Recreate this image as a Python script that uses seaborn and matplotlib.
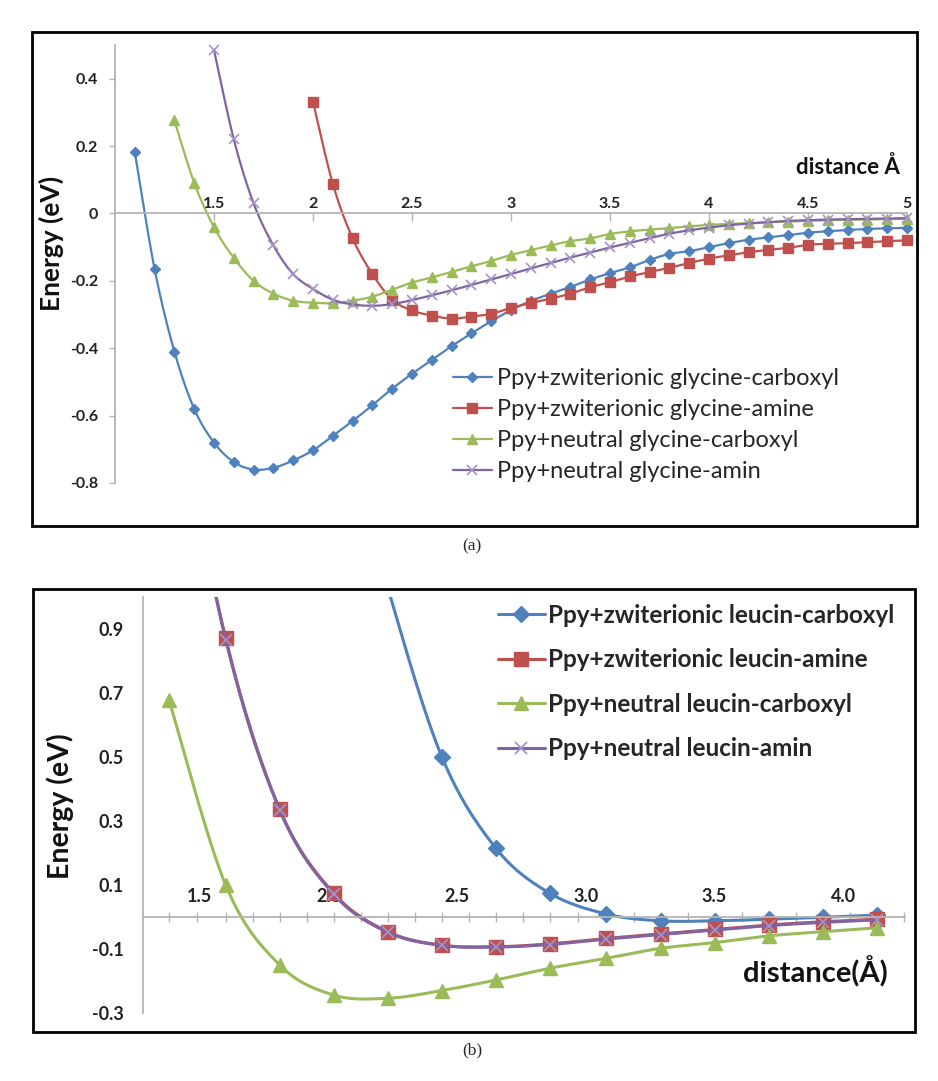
import numpy as np
import pandas as pd
import matplotlib
matplotlib.use('Agg')
import matplotlib.pyplot as plt
from matplotlib.lines import Line2D
from matplotlib.patches import Rectangle
import seaborn as sns

sns.set_theme(style='white')
plt.rcParams['font.family'] = ['Lato', 'DejaVu Sans']

# ── データ ──────────────────────────────────────────────
# (a) glycine, 0.1 Å step
DIST_A = [1.1, 1.2, 1.3, 1.4, 1.5, 1.6, 1.7, 1.8, 1.9, 2.0,
          2.1, 2.2, 2.3, 2.4, 2.5, 2.6, 2.7, 2.8, 2.9, 3.0,
          3.1, 3.2, 3.3, 3.4, 3.5, 3.6, 3.7, 3.8, 3.9, 4.0,
          4.1, 4.2, 4.3, 4.4, 4.5, 4.6, 4.7, 4.8, 4.9, 5.0]
ZW_GLY_CARBOXYL = [0.182, -0.165, -0.41, -0.58, -0.68, -0.738, -0.76, -0.755, -0.733, -0.703,
                   -0.66, -0.616, -0.569, -0.52, -0.476, -0.435, -0.394, -0.356, -0.32, -0.287,
                   -0.26, -0.238, -0.218, -0.196, -0.177, -0.16, -0.138, -0.12, -0.112, -0.1,
                   -0.088, -0.078, -0.071, -0.064, -0.057, -0.053, -0.049, -0.046, -0.044, -0.043]
ZW_GLY_AMINE = [0.332, 0.088, -0.074, -0.18, -0.256, -0.288, -0.303, -0.312, -0.306, -0.298,
                -0.28, -0.266, -0.253, -0.238, -0.219, -0.204, -0.187, -0.174, -0.161, -0.147,
                -0.134, -0.124, -0.115, -0.108, -0.102, -0.093, -0.09, -0.088, -0.085, -0.082,
                -0.08]                                  # 2.0 – 5.0
NE_GLY_CARBOXYL = [0.276, 0.091, -0.041, -0.132, -0.2, -0.238, -0.259, -0.265,
                   -0.266, -0.259, -0.247, -0.226, -0.205, -0.19, -0.173, -0.157, -0.141, -0.123,
                   -0.109, -0.095, -0.082, -0.074, -0.061, -0.053, -0.048, -0.043, -0.038, -0.034,
                   -0.031, -0.028, -0.026, -0.024, -0.022, -0.02, -0.019, -0.018, -0.017, -0.015]  # 1.3 – 5.0
NE_GLY_AMIN = [0.485, 0.22, 0.03, -0.095, -0.18, -0.224,
               -0.256, -0.27, -0.274, -0.269, -0.257, -0.243, -0.228, -0.212, -0.196, -0.18,
               -0.163, -0.147, -0.131, -0.116, -0.101, -0.087, -0.073, -0.06, -0.05, -0.042,
               -0.035, -0.03, -0.026, -0.022, -0.02, -0.018, -0.017, -0.016, -0.015, -0.014]  # 1.5 – 5.0

LABELS_A = ['Ppy+zwiterionic glycine-carboxyl', 'Ppy+zwiterionic glycine-amine',
            'Ppy+neutral glycine-carboxyl', 'Ppy+neutral glycine-amin']

# (b) leucin
DIST_B = [1.38, 1.60, 1.81, 2.02, 2.23, 2.44, 2.65, 2.86, 3.08, 3.29, 3.50, 3.71, 3.92, 4.13]
ZW_LEU_CARBOXYL = [1.65, 1.03, 0.502, 0.216, 0.075, 0.010, -0.011, -0.011, -0.006, 0.0, 0.007]  # 2.02 –
ZW_LEU_AMINE = [1.75, 0.872, 0.3375, 0.075, -0.045, -0.087, -0.092, -0.083, -0.066, -0.052,
                -0.038, -0.024, -0.014, -0.006]
NE_LEU_CARBOXYL = [0.679, 0.101, -0.149, -0.243, -0.253, -0.229, -0.196, -0.159, -0.128, -0.097,
                   -0.079, -0.058, -0.045, -0.033]
NE_LEU_AMIN = [1.75, 0.868, 0.335, 0.072, -0.047, -0.088, -0.093, -0.085, -0.068, -0.054,
               -0.040, -0.026, -0.016, -0.008]

LABELS_B = ['Ppy+zwiterionic leucin-carboxyl', 'Ppy+zwiterionic leucin-amine',
            'Ppy+neutral leucin-carboxyl', 'Ppy+neutral leucin-amin']

YTICKS_A = [-0.8, -0.6, -0.4, -0.2, 0, 0.2, 0.4]
XTICKS_A = [1.5, 2, 2.5, 3, 3.5, 4, 4.5, 5]
YTICKS_B = [-0.3, -0.1, 0.1, 0.3, 0.5, 0.7, 0.9]
XTICKS_B = [1.5, 2.0, 2.5, 3.0, 3.5, 4.0]

# Excel 2007 の標準色
BLUE, RED, GREEN, PURPLE = '#4F81BD', '#C0504D', '#9BBB59', '#8064A2'
XMARK = '#A593C8'
AXIS_GREY = '#B4B4B4'

W, H = 938, 1081


def fx(px):
    return px / W


def fy(py):
    return 1 - py / H


def smooth(xs, ys, n=16):
    # Excel の「平滑線」に近い Bezier 補間（描画用）
    P = np.column_stack([xs, ys]).astype(float)
    P = np.vstack([P[0], P, P[-1]])
    segs = []
    t = np.linspace(0, 1, n, endpoint=False)[:, None]
    for i in range(1, len(P) - 2):
        p0, p1, p2, p3 = P[i - 1], P[i], P[i + 1], P[i + 2]
        c1 = p1 + (p2 - p0) / 6
        c2 = p2 - (p3 - p1) / 6
        segs.append((1 - t) ** 3 * p1 + 3 * (1 - t) ** 2 * t * c1
                    + 3 * (1 - t) * t ** 2 * c2 + t ** 3 * p2)
    segs.append(P[-2][None, :])
    c = np.vstack(segs)
    return pd.DataFrame({'d': c[:, 0], 'e': c[:, 1]})


def draw(ax, xs, ys, color, marker, ms, lw, mcolor=None, mew=1.0, clip=True):
    curve = smooth(xs, ys)
    sns.lineplot(data=curve, x='d', y='e', sort=False, estimator=None,
                 color=color, linewidth=lw, ax=ax, clip_on=clip)
    pts = pd.DataFrame({'d': xs, 'e': ys})
    lo, hi = ax.get_ylim()
    pts = pts[(pts['e'] >= lo) & (pts['e'] <= hi)]
    mc = mcolor or color
    sns.lineplot(data=pts, x='d', y='e', sort=False, estimator=None,
                 linestyle='', marker=marker, markersize=ms, color=mc,
                 markeredgecolor=mc, markeredgewidth=mew, ax=ax, clip_on=clip)
    return Line2D([], [], color=color, linewidth=lw, marker=marker, markersize=ms,
                  markerfacecolor=mc, markeredgecolor=mc, markeredgewidth=mew)


fig = plt.figure(figsize=(W / 100, H / 100), dpi=100)

# ── (a) ────────────────────────────────────────────────
axa = fig.add_axes([fx(115), fy(483), (907 - 115) / W, (483 - 45) / H])
axa.set_xlim(1.0, 5.0)
axa.set_ylim(-0.8, 0.5)

ha = []
ha.append(draw(axa, DIST_A, ZW_GLY_CARBOXYL, BLUE, 'D', 5.5, 1.6, clip=False))
ha.append(draw(axa, DIST_A[9:], ZW_GLY_AMINE, RED, 's', 6.5, 1.6, clip=False))
ha.append(draw(axa, DIST_A[2:], NE_GLY_CARBOXYL, GREEN, '^', 7, 1.6, clip=False))
ha.append(draw(axa, DIST_A[4:], NE_GLY_AMIN, PURPLE, 'x', 7, 1.6, mcolor=XMARK, mew=1.2, clip=False))

axa.xaxis.tick_top()
axa.spines['top'].set_position(('data', 0))
axa.spines['bottom'].set_visible(False)
axa.spines['right'].set_visible(False)
for s in ['top', 'left']:
    axa.spines[s].set_color(AXIS_GREY)
    axa.spines[s].set_linewidth(1.3)
axa.set_xticks(XTICKS_A)
axa.set_xticklabels([f'{v:g}' for v in XTICKS_A])
axa.set_yticks(YTICKS_A)
axa.set_yticklabels([f'{v:g}' for v in YTICKS_A])
axa.tick_params(axis='x', direction='in', length=6, width=1, color=AXIS_GREY, pad=2,
                labelsize=11.5, labelcolor='#222222')
axa.tick_params(axis='y', direction='out', length=4, width=1, color=AXIS_GREY, pad=8,
                labelsize=11.5, labelcolor='#222222', left=True)
for lab in axa.get_xticklabels() + axa.get_yticklabels():
    lab.set_fontweight('bold')
axa.set_xlabel('')
axa.set_ylabel('')
axa.patch.set_alpha(0)

fig.text(fx(51), fy(243), 'Energy (eV)', rotation=90, ha='center', va='center',
         fontsize=19, fontweight='bold', color='#111111')
fig.text(fx(900), fy(167), 'distance Å', ha='right', va='center',
         fontsize=16, fontweight='bold', color='#111111')

axa.legend(ha, LABELS_A, loc='upper left', bbox_to_anchor=(fx(453), fy(368)),
           bbox_transform=fig.transFigure, frameon=False, fontsize=17,
           handlelength=1.65, handletextpad=0.2, labelspacing=0.43,
           borderpad=0, borderaxespad=0)

# ── (b) ────────────────────────────────────────────────
axb = fig.add_axes([fx(143.3), fy(1013.3), (905 - 143.3) / W, (1013.3 - 597.3) / H])
axb.set_xlim(1.28, 4.24)
axb.set_ylim(-0.3, 1.0)

hb = []
hb.append(draw(axb, DIST_B[3:], ZW_LEU_CARBOXYL, BLUE, 'D', 8, 2.2))
hb.append(draw(axb, DIST_B, ZW_LEU_AMINE, RED, 's', 10, 2.2))
hb.append(draw(axb, DIST_B, NE_LEU_CARBOXYL, GREEN, '^', 10, 2.2))
hb.append(draw(axb, DIST_B, NE_LEU_AMIN, PURPLE, 'x', 9, 2.2, mcolor=XMARK, mew=1.3))

axb.xaxis.tick_top()
axb.spines['top'].set_position(('data', 0))
axb.spines['bottom'].set_visible(False)
axb.spines['right'].set_visible(False)
for s in ['top', 'left']:
    axb.spines[s].set_color(AXIS_GREY)
    axb.spines[s].set_linewidth(1.3)

mids = [(a + b) / 2 for a, b in zip(DIST_B[:-1], DIST_B[1:])]
minor = sorted(DIST_B + mids + [DIST_B[-1] + (DIST_B[-1] - DIST_B[-2]) / 2])
axb.set_xticks(minor, minor=True)
axb.set_xticks(XTICKS_B)
axb.set_xticklabels([f'{v:.1f}' for v in XTICKS_B])
axb.set_yticks(YTICKS_B)
axb.set_yticklabels([f'{v:g}' for v in YTICKS_B])
axb.tick_params(axis='x', which='minor', direction='inout', length=7, width=1, color=AXIS_GREY)
axb.tick_params(axis='x', which='major', length=0, pad=9, labelsize=13, labelcolor='#222222')
axb.tick_params(axis='y', length=0, pad=14, labelsize=13, labelcolor='#222222')
for lab in axb.get_xticklabels() + axb.get_yticklabels():
    lab.set_fontweight('bold')
axb.set_xlabel('')
axb.set_ylabel('')
axb.patch.set_alpha(0)

fig.text(fx(60), fy(806), 'Energy (eV)', rotation=90, ha='center', va='center',
         fontsize=20.5, fontweight='bold', color='#111111')
fig.text(fx(888), fy(972), 'distance(Å)', ha='right', va='center',
         fontsize=21, fontweight='bold', color='#111111')

axb.legend(hb, LABELS_B, loc='upper left', bbox_to_anchor=(fx(498), fy(604)),
           bbox_transform=fig.transFigure, frameon=False,
           prop={'size': 17.5, 'weight': 'bold'},
           handlelength=1.93, handletextpad=0.12, labelspacing=0.88,
           borderpad=0, borderaxespad=0)

# ── 枠とキャプション ───────────────────────────────────
for (x0, y0, x1, y1) in [(32, 32, 917, 526), (33, 589, 915, 1032)]:
    fig.patches.append(Rectangle((fx(x0), fy(y1)), (x1 - x0) / W, (y1 - y0) / H,
                                 transform=fig.transFigure, fill=False,
                                 edgecolor='black', linewidth=2))
fig.text(fx(472), fy(546), '(a)', ha='center', va='center', fontsize=12.5,
         family=['Liberation Serif', 'DejaVu Serif'])
fig.text(fx(472), fy(1050), '(b)', ha='center', va='center', fontsize=12.5,
         family=['Liberation Serif', 'DejaVu Serif'])

fig.savefig('out.png', dpi=100)
